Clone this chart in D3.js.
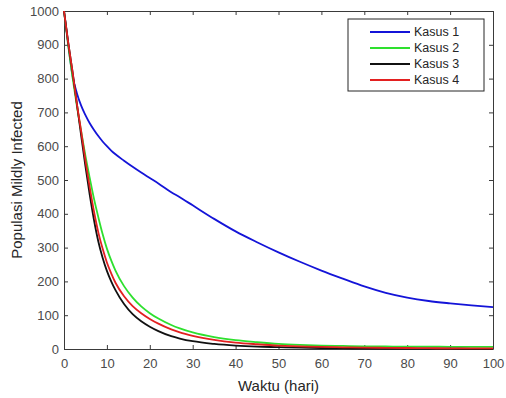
<!DOCTYPE html>
<html>
<head>
<meta charset="utf-8">
<script src="https://cdn.jsdelivr.net/npm/d3@7"></script>
<style>
  body { margin: 0; background: #fff; }
  svg { font-family: 'Liberation Sans', Arial, sans-serif; }
  .axis path, .axis line { stroke: #3a3a3a; }
  .axis text { fill: #4a4a4a; font-size: 13px; }
  .axisLabel { fill: #262626; font-size: 15px; }
  .legend text { fill: #262626; font-size: 12.5px; }
</style>
</head>
<body>
<div id="chart"></div>
<script>
const hari = [0, 1, 2, 3, 4, 5, 6, 7, 8, 9, 10, 11, 12, 14, 16, 18, 20, 22, 25, 27, 30,
  35, 40, 45, 50, 55, 60, 65, 70, 75, 80, 85, 90, 95, 100];
const kasus1 = [1000, 900, 808, 757, 720, 692, 668, 648, 630, 614, 600, 587, 576, 557, 539, 522, 506, 490, 464, 449, 425,
  385, 348, 316, 286, 258, 232, 208, 185, 166, 152, 142, 135, 129, 124];
const kasus2 = [1000, 896, 803, 719, 644, 571, 506, 444, 390, 340, 297, 262, 232, 186, 152, 126, 106, 90, 71, 61, 49,
  35, 26, 20, 15, 12, 10, 9, 8, 7.5, 7, 7, 6.5, 6.5, 6];
const kasus3 = [1000, 905, 819, 726, 631, 540, 456, 381, 318, 270, 231, 200, 174, 133, 103, 82, 66, 53, 38, 31, 23,
  15, 10, 7, 5.5, 4, 3, 2.5, 2, 1.5, 1, 1, 1, 0.5, 0.5];
const kasus4 = [1000, 905, 819, 726, 644, 557, 478, 406, 345, 297, 256, 224, 196, 156, 127, 106, 89, 75, 58, 49, 39,
  27, 19, 14, 10, 8, 6, 5, 4, 3.5, 3, 2.5, 2, 2, 2];
const seriesNames = ['Kasus 1', 'Kasus 2', 'Kasus 3', 'Kasus 4'];
const seriesColors = ['#1414d8', '#2ee02e', '#111111', '#e32020'];
const xTicks = [0, 10, 20, 30, 40, 50, 60, 70, 80, 90, 100];
const yTicks = [0, 100, 200, 300, 400, 500, 600, 700, 800, 900, 1000];

const margin = { left: 64, right: 13, top: 11, bottom: 49 };
const totalWidth = 506;
const totalHeight = 398;
const width = totalWidth - margin.left - margin.right;
const height = totalHeight - margin.top - margin.bottom;

const svg = d3.select('#chart')
  .append('svg')
  .attr('width', totalWidth)
  .attr('height', totalHeight);
const g = svg.append('g')
  .attr('transform', 'translate(' + margin.left + ',' + margin.top + ')');

const x = d3.scaleLinear().domain([0, 100]).range([0, width]);
const y = d3.scaleLinear().domain([0, 1000]).range([height, 0]);
const fmt = d3.format('d');

// Axes (MATLAB style: ticks inside, box on)
g.append('g')
  .attr('class', 'axis')
  .attr('transform', 'translate(0,' + height + ')')
  .call(d3.axisBottom(x).tickValues(xTicks).tickFormat(fmt).tickSizeInner(-4).tickSizeOuter(0).tickPadding(10));
g.append('g')
  .attr('class', 'axis')
  .call(d3.axisLeft(y).tickValues(yTicks).tickFormat(fmt).tickSizeInner(-4).tickSizeOuter(0).tickPadding(5));
g.append('g')
  .attr('class', 'axis')
  .call(d3.axisTop(x).tickValues(xTicks).tickFormat('').tickSizeInner(-4).tickSizeOuter(0));
g.append('g')
  .attr('class', 'axis')
  .attr('transform', 'translate(' + width + ',0)')
  .call(d3.axisRight(y).tickValues(yTicks).tickFormat('').tickSizeInner(-4).tickSizeOuter(0));

// Labels
g.append('text')
  .attr('class', 'axisLabel')
  .attr('x', width / 2)
  .attr('y', height + 42)
  .attr('text-anchor', 'middle')
  .text('Waktu (hari)');
g.append('text')
  .attr('class', 'axisLabel')
  .attr('transform', 'rotate(-90)')
  .attr('x', -height / 2)
  .attr('y', -42)
  .attr('text-anchor', 'middle')
  .text('Populasi Mildly Infected');

// Lines
const allSeries = [kasus1, kasus2, kasus3, kasus4];
const line = d3.line()
  .x((d, i) => x(hari[i]))
  .y(d => y(d))
  .curve(d3.curveMonotoneX);
g.selectAll('.kasus')
  .data(allSeries)
  .enter()
  .append('path')
  .attr('class', 'kasus')
  .attr('fill', 'none')
  .attr('stroke', (d, i) => seriesColors[i])
  .attr('stroke-width', 1.8)
  .attr('d', line);

// Legend
const legend = svg.append('g')
  .attr('class', 'legend')
  .attr('transform', 'translate(348,19)');
legend.append('rect')
  .attr('width', 136)
  .attr('height', 72)
  .attr('fill', '#fff')
  .attr('stroke', '#262626')
  .attr('stroke-width', 1);
const rows = legend.selectAll('.row')
  .data(seriesNames)
  .enter()
  .append('g')
  .attr('class', 'row')
  .attr('transform', (d, i) => 'translate(0,' + (13 + i * 16) + ')');
rows.append('line')
  .attr('x1', 22)
  .attr('x2', 62)
  .attr('stroke', (d, i) => seriesColors[i])
  .attr('stroke-width', 1.8);
rows.append('text')
  .attr('x', 66)
  .attr('dy', '0.35em')
  .text(d => d);
</script>
</body>
</html>
